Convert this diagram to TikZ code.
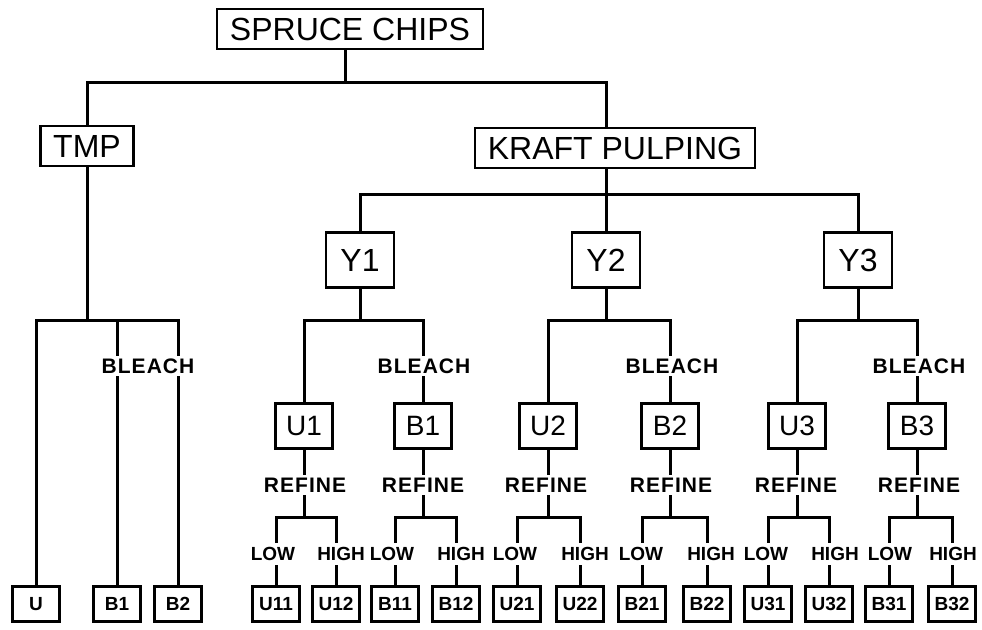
\documentclass[tikz,border=0pt]{standalone}
\usepackage{fontspec}
\setmainfont{Liberation Sans}
\newfontfamily\spacedsans[LetterSpace=5]{Liberation Sans}

\tikzset{
  bigbox/.style={draw,line width=2.6pt,font=\fontsize{32}{36}\selectfont,inner xsep=13pt,minimum height=40pt},
  ybox/.style={draw,line width=2.6pt,font=\fontsize{32}{36}\selectfont,minimum width=68pt,minimum height=55pt},
  midbox/.style={draw,line width=2.6pt,font=\fontsize{28}{32}\selectfont,minimum width=57pt,minimum height=45pt},
  leafbox/.style={draw,line width=2.6pt,font=\bfseries\fontsize{19}{21}\selectfont,minimum width=47pt,minimum height=35pt,inner sep=0pt},
  steplbl/.style={fill=white,font=\spacedsans\bfseries\fontsize{21}{24}\selectfont,inner xsep=1pt,inner ysep=3pt},
  lvllbl/.style={fill=white,font=\bfseries\fontsize{19}{21}\selectfont,inner xsep=1pt,inner ysep=4pt},
  link/.style={line width=3pt}
}

\begin{document}
\begin{tikzpicture}[x=1pt,y=-1pt]
\useasboundingbox (0,0) rectangle (982,629);
% boxes
\node[bigbox] (spruce) at (350,29) {SPRUCE CHIPS};
\node[bigbox] (tmp) at (87,146) {TMP};
\node[bigbox] (kraft) at (615,148) {KRAFT PULPING};
\node[ybox] (y1) at (360,260) {Y1};
\node[ybox] (y2) at (606,260) {Y2};
\node[ybox] (y3) at (858,260) {Y3};
\node[midbox] (u1) at (304,426) {U1};
\node[midbox] (b1) at (423,426) {B1};
\node[midbox] (u2) at (548,426) {U2};
\node[midbox] (b2) at (670,426) {B2};
\node[midbox] (u3) at (797,426) {U3};
\node[midbox] (b3) at (917,426) {B3};
\node[leafbox] (lu) at (36,604) {U};
\node[leafbox] (lb1) at (117,604) {B1};
\node[leafbox] (lb2) at (178,604) {B2};
\node[leafbox] (u11) at (276,604) {U11};
\node[leafbox] (u12) at (336,604) {U12};
\node[leafbox] (b11) at (395,604) {B11};
\node[leafbox] (b12) at (456,604) {B12};
\node[leafbox] (u21) at (517,604) {U21};
\node[leafbox] (u22) at (580,604) {U22};
\node[leafbox] (b21) at (642,604) {B21};
\node[leafbox] (b22) at (707,604) {B22};
\node[leafbox] (u31) at (768,604) {U31};
\node[leafbox] (u32) at (829,604) {U32};
\node[leafbox] (b31) at (889,604) {B31};
\node[leafbox] (b32) at (952,604) {B32};
% junctions
\coordinate (j0) at (345,82);
\coordinate (jk) at (606,194);
\coordinate (jt) at (87,320);
\coordinate (j1) at (360,320);
\coordinate (j2) at (606,320);
\coordinate (j3) at (858,320);
\coordinate (r1) at (304,517);
\coordinate (r2) at (423,517);
\coordinate (r3) at (548,517);
\coordinate (r4) at (670,517);
\coordinate (r5) at (797,517);
\coordinate (r6) at (917,517);
% tree lines
\draw[link] (spruce.south -| j0) -- (j0);
\draw[link] (tmp.north) |- (j0) -| (kraft.north -| jk);
\draw[link] (kraft.south -| jk) -- (jk);
\draw[link] (y1.north) |- (jk) -| (y3.north);
\draw[link] (jk) -- (y2.north);
\draw[link] (tmp.south) -- (jt);
\draw[link] (lu.north) |- (jt) -| (lb2.north);
\draw[link] (jt -| lb1) -- (lb1.north);
\draw[link] (y1.south) -- (j1);
\draw[link] (u1.north) |- (j1) -| (b1.north);
\draw[link] (y2.south) -- (j2);
\draw[link] (u2.north) |- (j2) -| (b2.north);
\draw[link] (y3.south) -- (j3);
\draw[link] (u3.north) |- (j3) -| (b3.north);
\draw[link] (u1.south) -- (r1);
\draw[link] (u11.north) |- (r1) -| (u12.north);
\draw[link] (b1.south) -- (r2);
\draw[link] (b11.north) |- (r2) -| (b12.north);
\draw[link] (u2.south) -- (r3);
\draw[link] (u21.north) |- (r3) -| (u22.north);
\draw[link] (b2.south) -- (r4);
\draw[link] (b21.north) |- (r4) -| (b22.north);
\draw[link] (u3.south) -- (r5);
\draw[link] (u31.north) |- (r5) -| (u32.north);
\draw[link] (b3.south) -- (r6);
\draw[link] (b31.north) |- (r6) -| (b32.north);
% labels on the lines
\node[steplbl] (bl0) at (148,366) {BLEACH};
\node[steplbl] (bl1) at (424,366) {BLEACH};
\node[steplbl] (bl2) at (672,366) {BLEACH};
\node[steplbl] (bl3) at (919,366) {BLEACH};
\node[steplbl] (rf1) at (305,485) {REFINE};
\node[steplbl] (rf2) at (423,485) {REFINE};
\node[steplbl] (rf3) at (546,485) {REFINE};
\node[steplbl] (rf4) at (671,485) {REFINE};
\node[steplbl] (rf5) at (796,485) {REFINE};
\node[steplbl] (rf6) at (919,485) {REFINE};
\node[lvllbl] (lo1) at (273,554) {LOW};
\node[lvllbl] (hi1) at (341,554) {HIGH};
\node[lvllbl] (lo2) at (392,554) {LOW};
\node[lvllbl] (hi2) at (461,554) {HIGH};
\node[lvllbl] (lo3) at (515,554) {LOW};
\node[lvllbl] (hi3) at (585,554) {HIGH};
\node[lvllbl] (lo4) at (641,554) {LOW};
\node[lvllbl] (hi4) at (711,554) {HIGH};
\node[lvllbl] (lo5) at (766,554) {LOW};
\node[lvllbl] (hi5) at (835,554) {HIGH};
\node[lvllbl] (lo6) at (890,554) {LOW};
\node[lvllbl] (hi6) at (953,554) {HIGH};
\end{tikzpicture}
\end{document}
